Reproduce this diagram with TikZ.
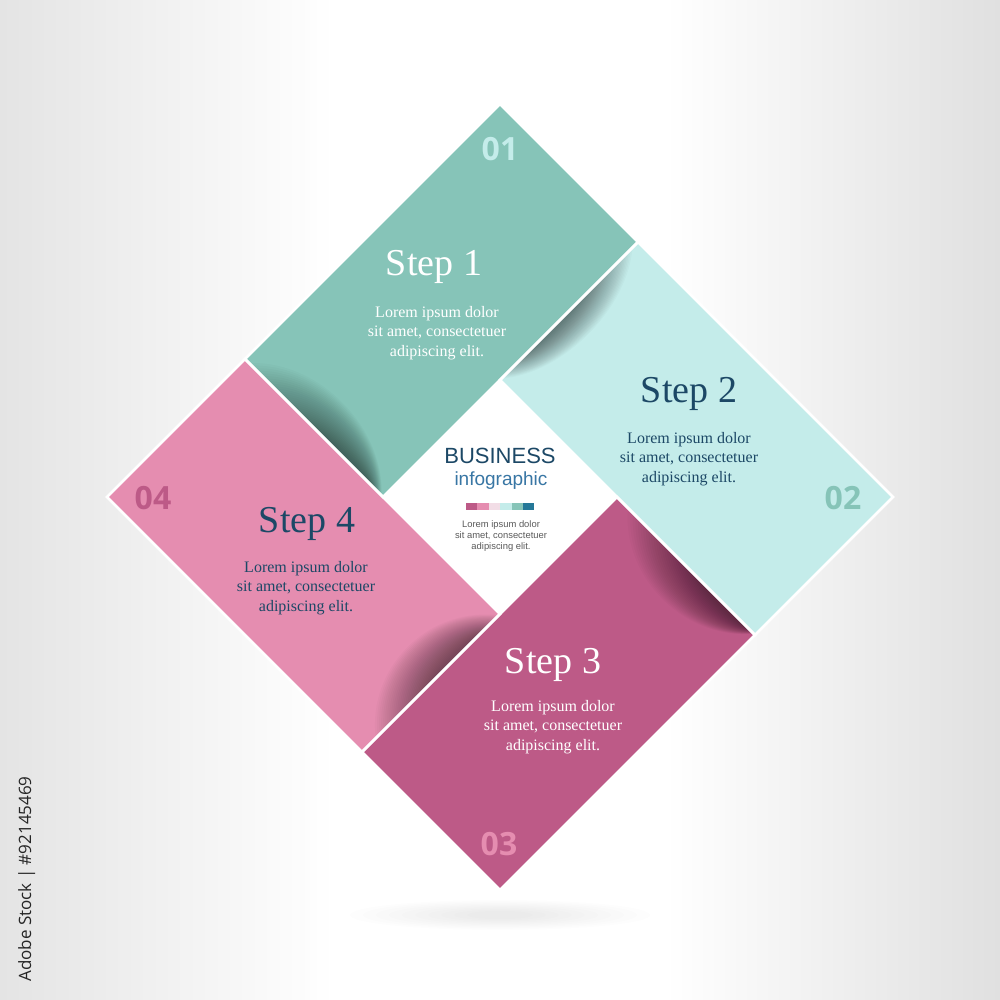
\documentclass[tikz,border=0pt]{standalone}
\usepackage{fontspec}
\setmainfont{Liberation Serif}
\newfontfamily\sansf{Liberation Sans}
\newfontfamily\numf{Open Sans}
\usetikzlibrary{calc}

\definecolor{cA}{HTML}{86C4B8}
\definecolor{cB}{HTML}{C4ECEA}
\definecolor{cC}{HTML}{BD5A87}
\definecolor{cD}{HTML}{E58DB0}
\definecolor{dblue}{HTML}{1C4866}
\definecolor{mblue}{HTML}{3876A4}
\definecolor{lpink}{HTML}{F2DDE6}
\definecolor{tblue}{HTML}{257898}
\definecolor{gtext}{HTML}{5A5A5A}
\definecolor{bgl}{HTML}{E4E4E4}
\definecolor{bgr}{HTML}{E0E0E0}

% curl shadow along edge #1 -> #2 : outer range #3..#4, core range #5..#6, max depth #7, min depth #8
\newcommand\curlshade[8]{%
  \foreach \j in {1,...,28}{%
    \pgfmathsetmacro\sz{#5-(#5-#3)*\j/28}%
    \pgfmathsetmacro\so{#6+(#4-#6)*\j/28}%
    \pgfmathsetmacro\sa{\sz+(\so-\sz)*0.25}%
    \pgfmathsetmacro\sb{\sz+(\so-\sz)*0.75}%
    \pgfmathsetmacro\hh{(#8+(#7-#8)*\j/28)/0.75}%
    \fill[black, fill opacity=0.021]
      ($(#1)!\sz!(#2)$)
      .. controls ($(#1)!\sa!(#2)!\hh bp!90:(#2)$) and ($(#1)!\sb!(#2)!\hh bp!90:(#2)$)
      .. ($(#1)!\so!(#2)$) -- cycle;
  }%
}

\tikzset{
  num/.style={font=\numf\bfseries\fontsize{32bp}{38bp}\selectfont, anchor=base, inner sep=0pt},
  ttl/.style={font=\fontsize{38bp}{44bp}\selectfont, anchor=base, inner sep=0pt},
  bodytxt/.style={font=\fontsize{16bp}{19.5bp}\selectfont, align=center, inner sep=0pt},
  edgeline/.style={draw=white, line width=2.5bp, line join=miter},
}

\begin{document}
\begin{tikzpicture}[x=1bp, y=-1bp]
\useasboundingbox (0,0) rectangle (1000,1000);

% background
\shade[left color=bgl, right color=white] (0,0) rectangle (335,1000);
\shade[left color=white, right color=bgr] (665,0) rectangle (1000,1000);
\fill[white] (334,0) rectangle (666,1000);

% ground shadow
\foreach \k in {1,...,10}{
  \fill[black, fill opacity=0.009] (500,915) ellipse [x radius={(20+13*\k)*1bp}, y radius={(3+1.2*\k)*1bp}];
}

% key points
\coordinate (T)  at (500,104);
\coordinate (R1) at (638,242);
\coordinate (L1) at (245,359);
\coordinate (CL) at (383,497);
\coordinate (CT) at (500,380);
\coordinate (CR) at (617,497);
\coordinate (CB) at (500,614);
\coordinate (RR) at (893,497);
\coordinate (B2) at (755,635);
\coordinate (BB) at (500,890);
\coordinate (B4) at (362,752);
\coordinate (LL) at (107,497);

% centre square
\fill[white] (CT) -- (CR) -- (CB) -- (CL) -- cycle;

% pieces
\fill[cA] (T) -- (R1) -- (CL) -- (L1) -- cycle;
\fill[cB] (R1) -- (RR) -- (B2) -- (CT) -- cycle;
\fill[cC] (CR) -- (B2) -- (BB) -- (B4) -- cycle;
\fill[cD] (L1) -- (CB) -- (B4) -- (LL) -- cycle;

% curl shadows
\begin{scope}
  \clip (T) -- (R1) -- (CL) -- (L1) -- cycle;
  \curlshade{L1}{CL}{0.03}{0.99}{0.55}{0.92}{38}{3}
\end{scope}
\begin{scope}
  \clip (R1) -- (RR) -- (B2) -- (CT) -- cycle;
  \curlshade{R1}{CT}{0.04}{0.99}{0.40}{0.80}{30}{3}
\end{scope}
\begin{scope}
  \clip (CR) -- (B2) -- (BB) -- (B4) -- cycle;
  \curlshade{B2}{CR}{0.01}{0.92}{0.04}{0.40}{40}{3}
\end{scope}
\begin{scope}
  \clip (L1) -- (CB) -- (B4) -- (LL) -- cycle;
  \curlshade{B4}{CB}{0.10}{0.99}{0.50}{0.85}{42}{3}
\end{scope}

% white separating edges
\draw[edgeline] (T) -- (R1) -- (CL) -- (L1) -- cycle;
\draw[edgeline] (R1) -- (RR) -- (B2) -- (CT) -- cycle;
\draw[edgeline] (CR) -- (B2) -- (BB) -- (B4) -- cycle;
\draw[edgeline] (L1) -- (CB) -- (B4) -- (LL) -- cycle;

% numbers
\node[num, text=cB] (n1) at (500,160) {01};
\node[num, text=cA] (n2) at (843,509) {02};
\node[num, text=cD] (n3) at (499,855) {03};
\node[num, text=cC] (n4) at (153,509) {04};

% titles
\node[ttl, text=white] (t1) at (434,275) {Step 1};
\node[ttl, text=dblue] (t2) at (689,402) {Step 2};
\node[ttl, text=white] (t3) at (553,673) {Step 3};
\node[ttl, text=dblue] (t4) at (307,532) {Step 4};

% body texts
\node[bodytxt, text=white] (b1) at (437,333) {Lorem ipsum dolor\\sit amet, consectetuer\\adipiscing elit.};
\node[bodytxt, text=dblue] (b2) at (689,459) {Lorem ipsum dolor\\sit amet, consectetuer\\adipiscing elit.};
\node[bodytxt, text=white] (b3) at (553,727) {Lorem ipsum dolor\\sit amet, consectetuer\\adipiscing elit.};
\node[bodytxt, text=dblue] (b4) at (306,588) {Lorem ipsum dolor\\sit amet, consectetuer\\adipiscing elit.};

% centre block
\node[font=\sansf\fontsize{22bp}{26bp}\selectfont, text=dblue, anchor=base, inner sep=0pt] (biz) at (500,463) {BUSINESS};
\node[font=\sansf\fontsize{19bp}{23bp}\selectfont, text=mblue, anchor=base, inner sep=0pt] (info) at (501,485) {infographic};
\fill[cC]    (466.0,502.5) rectangle (477.4,510);
\fill[cD]    (477.4,502.5) rectangle (488.8,510);
\fill[lpink] (488.8,502.5) rectangle (500.2,510);
\fill[cB]    (500.2,502.5) rectangle (511.6,510);
\fill[cA]    (511.6,502.5) rectangle (523.0,510);
\fill[tblue] (523.0,502.5) rectangle (534.4,510);
\node[font=\sansf\fontsize{9.4bp}{11.3bp}\selectfont, text=gtext, align=center, inner sep=0pt] (small) at (501,536) {Lorem ipsum dolor\\sit amet, consectetuer\\adipiscing elit.};

% side label
\node[font=\numf\fontsize{17bp}{20bp}\selectfont, text=black!85, rotate=90, anchor=base, inner sep=0pt] (adobe) at (31,879) {Adobe Stock | \#92145469};
\end{tikzpicture}
\end{document}
